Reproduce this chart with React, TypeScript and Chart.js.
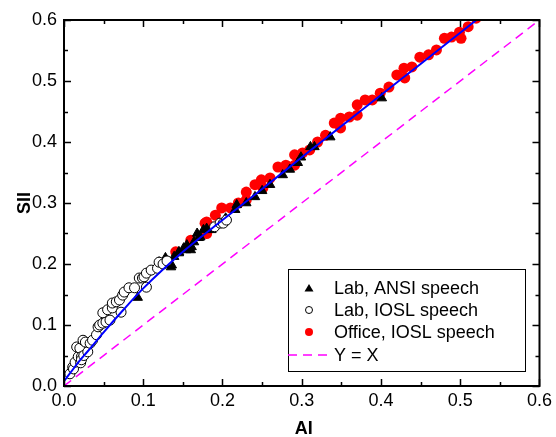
import React, { useEffect, useRef } from "react";
import { Chart, registerables } from "chart.js";

Chart.register(...registerables);

// Lab measurements with ANSI speech spectrum: [AI, SII]
const labAnsi: number[][] = [
  [0.093, 0.145], [0.12, 0.203], [0.128, 0.21], [0.136, 0.198], [0.139, 0.212],
  [0.145, 0.22], [0.151, 0.226], [0.155, 0.231], [0.16, 0.223], [0.164, 0.236],
  [0.168, 0.25], [0.172, 0.244], [0.176, 0.256], [0.135, 0.195], [0.145, 0.218],
  [0.154, 0.223], [0.161, 0.228], [0.17, 0.243], [0.18, 0.258], [0.186, 0.256],
  [0.204, 0.275], [0.216, 0.289], [0.218, 0.297], [0.23, 0.3], [0.241, 0.31],
  [0.25, 0.32], [0.26, 0.33], [0.276, 0.346], [0.285, 0.355], [0.295, 0.366],
  [0.299, 0.375], [0.311, 0.392], [0.316, 0.392], [0.336, 0.408], [0.401, 0.472],
];

// Lab measurements with IOSL speech spectrum
const labIosl: number[][] = [
  [0.0075, 0.02], [0.011, 0.031], [0.012, 0.028], [0.014, 0.039], [0.018, 0.048],
  [0.016, 0.064], [0.02, 0.062], [0.021, 0.038], [0.022, 0.048], [0.022, 0.043],
  [0.024, 0.075], [0.025, 0.05], [0.027, 0.072], [0.03, 0.056], [0.033, 0.07],
  [0.036, 0.075], [0.041, 0.084], [0.043, 0.097], [0.045, 0.1], [0.049, 0.103],
  [0.053, 0.105], [0.058, 0.108], [0.049, 0.12], [0.055, 0.125], [0.061, 0.128],
  [0.061, 0.136], [0.066, 0.138], [0.072, 0.121], [0.07, 0.141], [0.074, 0.149],
  [0.076, 0.154], [0.082, 0.161], [0.089, 0.161], [0.095, 0.177], [0.099, 0.177],
  [0.101, 0.179], [0.104, 0.185], [0.104, 0.162], [0.11, 0.19], [0.118, 0.193],
  [0.12, 0.203], [0.125, 0.2], [0.13, 0.205], [0.19, 0.261], [0.197, 0.267],
  [0.201, 0.267], [0.205, 0.272],
];

// Office measurements with IOSL speech spectrum
const officeIosl: number[][] = [
  [0.141, 0.22], [0.16, 0.239], [0.178, 0.267], [0.18, 0.25], [0.18, 0.269],
  [0.186, 0.261], [0.191, 0.28], [0.199, 0.292], [0.21, 0.292], [0.22, 0.3],
  [0.23, 0.305], [0.23, 0.318], [0.241, 0.33], [0.249, 0.338], [0.251, 0.325],
  [0.26, 0.341], [0.27, 0.359], [0.28, 0.362], [0.291, 0.362], [0.291, 0.379],
  [0.301, 0.382], [0.31, 0.387], [0.32, 0.4], [0.33, 0.411], [0.341, 0.431],
  [0.349, 0.423], [0.349, 0.439], [0.36, 0.441], [0.37, 0.444], [0.37, 0.461],
  [0.38, 0.469], [0.389, 0.469], [0.399, 0.48], [0.41, 0.49], [0.42, 0.51],
  [0.429, 0.521], [0.43, 0.505], [0.439, 0.523], [0.449, 0.539], [0.46, 0.543],
  [0.47, 0.551], [0.48, 0.57], [0.489, 0.572], [0.499, 0.58], [0.501, 0.57],
  [0.51, 0.589], [0.52, 0.603],
];

// Fitted SII-vs-AI relation
const fitCurve: number[][] = [
  [0, 0.008], [0.01, 0.025], [0.02, 0.042], [0.03, 0.057], [0.05, 0.088],
  [0.075, 0.125], [0.1, 0.16], [0.15, 0.22], [0.2, 0.272], [0.25, 0.323],
  [0.3, 0.375], [0.35, 0.426], [0.4, 0.477], [0.45, 0.528], [0.5, 0.579],
  [0.53, 0.61],
];

// Identity reference line
const identityLine: number[][] = [[0, 0], [0.6, 0.6]];

const axisTicks = [0, 0.1, 0.2, 0.3, 0.4, 0.5, 0.6];
const legendLabels = ["Lab, ANSI speech", "Lab, IOSL speech", "Office, IOSL speech", "Y = X"];
const xTitle = "AI";
const yTitle = "SII";

const FONT = "'Liberation Sans', Arial, sans-serif";

const toXY = (arr: number[][]) => arr.map(([x, y]) => ({ x, y }));

const framePlugin = {
  id: "frameAndLegend",
  afterDatasetsDraw(chart: any) {
    const { ctx, chartArea: a, scales } = chart;
    const xs = scales.x;
    const ys = scales.y;
    ctx.save();
    ctx.strokeStyle = "#000";
    ctx.lineWidth = 1.5;
    // inward tick marks on all four sides
    for (let i = 0; i <= 12; i++) {
      const v = i * 0.05;
      const len = i % 2 === 0 ? 7 : 4;
      const px = Math.round(xs.getPixelForValue(v)) + 0.5;
      const py = Math.round(ys.getPixelForValue(v)) + 0.5;
      ctx.beginPath();
      ctx.moveTo(px, a.bottom);
      ctx.lineTo(px, a.bottom - len);
      ctx.moveTo(px, a.top);
      ctx.lineTo(px, a.top + len);
      ctx.moveTo(a.left, py);
      ctx.lineTo(a.left + len, py);
      ctx.moveTo(a.right, py);
      ctx.lineTo(a.right - len, py);
      ctx.stroke();
    }
    ctx.lineWidth = 2;
    ctx.strokeRect(a.left, a.top, a.right - a.left, a.bottom - a.top);

    // axis titles
    ctx.fillStyle = "#000";
    ctx.font = `bold 18px ${FONT}`;
    ctx.textAlign = "center";
    ctx.textBaseline = "middle";
    ctx.fillText(xTitle, (a.left + a.right) / 2 + 2, 429);
    ctx.save();
    ctx.translate(25, (a.top + a.bottom) / 2);
    ctx.rotate(-Math.PI / 2);
    ctx.fillText(yTitle, 0, 0);
    ctx.restore();

    // legend box
    const bx = 288, by = 269, bw = 237, bh = 102;
    ctx.fillStyle = "#fff";
    ctx.fillRect(bx, by, bw, bh);
    ctx.lineWidth = 1;
    ctx.strokeStyle = "#000";
    ctx.strokeRect(bx + 0.5, by + 0.5, bw, bh);
    const rows = [288, 310, 332, 355];
    const sx = 309;
    // triangle
    ctx.fillStyle = "#000";
    ctx.beginPath();
    ctx.moveTo(sx, rows[0] - 4);
    ctx.lineTo(sx + 4.5, rows[0] + 3.5);
    ctx.lineTo(sx - 4.5, rows[0] + 3.5);
    ctx.closePath();
    ctx.fill();
    // open circle
    ctx.beginPath();
    ctx.arc(sx, rows[1], 3.5, 0, Math.PI * 2);
    ctx.fillStyle = "#fff";
    ctx.fill();
    ctx.strokeStyle = "#000";
    ctx.lineWidth = 1;
    ctx.stroke();
    // red dot
    ctx.beginPath();
    ctx.arc(sx, rows[2], 4, 0, Math.PI * 2);
    ctx.fillStyle = "#ff0000";
    ctx.fill();
    // dashed line
    ctx.beginPath();
    ctx.setLineDash([9, 6]);
    ctx.strokeStyle = "#ff00ff";
    ctx.lineWidth = 1.5;
    ctx.moveTo(bx, rows[3]);
    ctx.lineTo(331, rows[3]);
    ctx.stroke();
    ctx.setLineDash([]);

    ctx.fillStyle = "#000";
    ctx.font = `18px ${FONT}`;
    ctx.textAlign = "left";
    ctx.textBaseline = "middle";
    legendLabels.forEach((t, i) => ctx.fillText(t, 334, rows[i] + 1));
    ctx.restore();
  },
};

export default function App() {
  const ref = useRef<HTMLCanvasElement | null>(null);

  useEffect(() => {
    if (!ref.current) return;
    const tickFont = { family: FONT, size: 18 };
    const chart = new Chart(ref.current, {
      type: "scatter",
      data: {
        datasets: [
          {
            label: "fit",
            data: toXY(fitCurve),
            showLine: true,
            borderColor: "#0000ff",
            borderWidth: 2,
            pointRadius: 0,
            cubicInterpolationMode: "monotone",
            order: 0,
            clip: 0,
          } as any,
          {
            label: legendLabels[3],
            data: toXY(identityLine),
            showLine: true,
            borderColor: "#ff00ff",
            borderWidth: 1.5,
            borderDash: [9, 6],
            pointRadius: 0,
            order: 0,
            clip: 0,
          } as any,
          {
            label: legendLabels[1],
            data: toXY(labIosl),
            pointStyle: "circle",
            pointRadius: 5,
            backgroundColor: "#fff",
            borderColor: "#000",
            borderWidth: 1,
            order: 1,
            clip: 0,
          } as any,
          {
            label: legendLabels[0],
            data: toXY(labAnsi),
            pointStyle: "triangle",
            pointRadius: 5.5,
            backgroundColor: "#000",
            borderColor: "#000",
            borderWidth: 1,
            order: 2,
            clip: 0,
          } as any,
          {
            label: legendLabels[2],
            data: toXY(officeIosl),
            pointStyle: "circle",
            pointRadius: 5.5,
            backgroundColor: "#ff0000",
            borderColor: "#ff0000",
            borderWidth: 0,
            order: 3,
            clip: 0,
          } as any,
        ],
      },
      options: {
        responsive: false,
        animation: false,
        layout: { padding: { top: 20, right: 12, left: 0, bottom: 0 } },
        plugins: { legend: { display: false }, tooltip: { enabled: false }, title: { display: false } },
        scales: {
          x: {
            type: "linear",
            min: 0,
            max: 0.6,
            afterBuildTicks: (s: any) => { s.ticks = axisTicks.map((v) => ({ value: v })); },
            afterFit: (s: any) => { s.height = 51; },
            grid: { display: false, drawTicks: false },
            border: { display: false },
            ticks: {
              font: tickFont,
              color: "#000",
              padding: 4,
              maxRotation: 0,
              autoSkip: false,
              callback: (v: any) => Number(v).toFixed(1),
            },
          },
          y: {
            type: "linear",
            min: 0,
            max: 0.6,
            afterBuildTicks: (s: any) => { s.ticks = axisTicks.map((v) => ({ value: v })); },
            afterFit: (s: any) => { s.width = 64; },
            grid: { display: false, drawTicks: false },
            border: { display: false },
            ticks: {
              font: tickFont,
              color: "#000",
              padding: 7,
              autoSkip: false,
              callback: (v: any) => Number(v).toFixed(1),
            },
          },
        },
      } as any,
      plugins: [framePlugin],
    });
    return () => chart.destroy();
  }, []);

  return (
    <div style={{ position: "absolute", left: 0, top: 0, width: 556, height: 437, background: "#fff" }}>
      <canvas ref={ref} width={556} height={437} />
    </div>
  );
}
